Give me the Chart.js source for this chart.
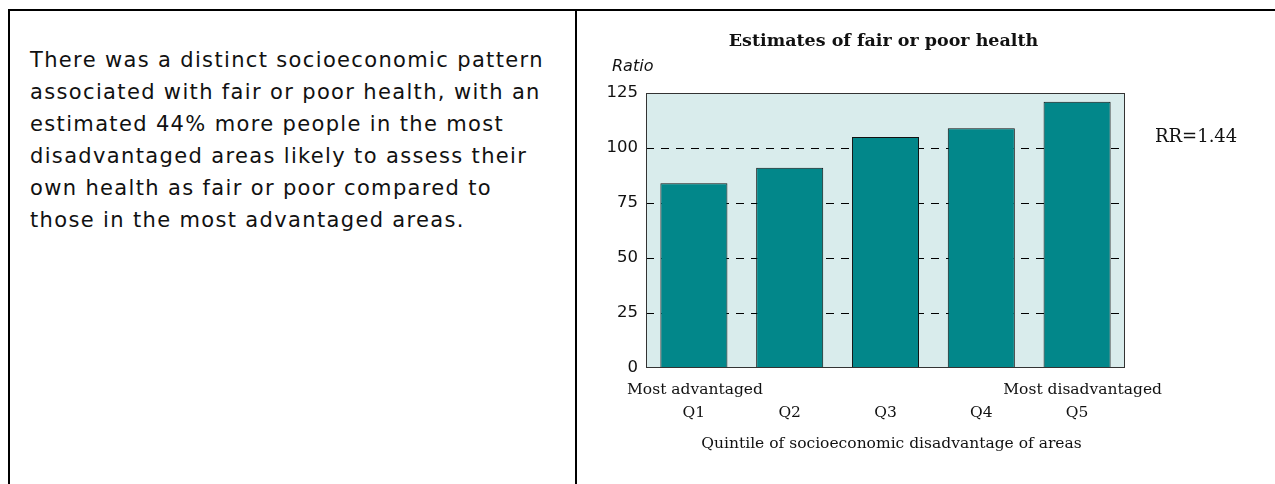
<!DOCTYPE html>
<html>
<head>
<meta charset="utf-8">
<script src="https://cdn.jsdelivr.net/npm/chart.js@4.4.0/dist/chart.umd.min.js"></script>
<style>
  html, body { margin: 0; padding: 0; background: #fff; }
  body { width: 1275px; height: 484px; position: relative; overflow: hidden; }
  .topline { position: absolute; left: 8px; top: 9px; width: 1267px; height: 2px; background: #000; }
  .leftline { position: absolute; left: 8px; top: 9px; width: 2px; height: 475px; background: #000; }
  .divider { position: absolute; left: 575px; top: 9px; width: 2px; height: 475px; background: #000; }
  .text {
    position: absolute; left: 30px; top: 44px; width: 545px;
    font-family: "DejaVu Sans", sans-serif; font-size: 21px; letter-spacing: 1.35px;
    line-height: 32px; color: #111; white-space: nowrap;
  }
  #wrap { position: absolute; left: 578px; top: 12px; width: 697px; height: 472px; }
</style>
</head>
<body>
<div class="topline"></div>
<div class="leftline"></div>
<div class="divider"></div>
<div class="text">There was a distinct socioeconomic pattern<br>associated with fair or poor health, with an<br>estimated 44% more people in the most<br>disadvantaged areas likely to assess their<br>own health as fair or poor compared to<br>those in the most advantaged areas.</div>
<div id="wrap"><canvas id="chart"></canvas></div>
<script>
// dados do gráfico
var categories = ['Q1', 'Q2', 'Q3', 'Q4', 'Q5'];
var values = [84, 91, 105, 109, 121];
var yTicks = [0, 25, 50, 75, 100, 125];

var chartTitle = 'Estimates of fair or poor health';
var yTitle = 'Ratio';
var xTitle = 'Quintile of socioeconomic disadvantage of areas';
var leftNote = 'Most advantaged';
var rightNote = 'Most disadvantaged';
var rrNote = 'RR=1.44';

var serif = '"DejaVu Serif", serif';
var sans = '"DejaVu Sans", sans-serif';

// fundo, moldura e textos extras
var extras = {
  id: 'extras',
  beforeDraw: function (chart) {
    var a = chart.chartArea, ctx = chart.ctx;
    ctx.save();
    ctx.fillStyle = '#d9ecec';
    ctx.fillRect(a.left, a.top, a.right - a.left, a.bottom - a.top);
    ctx.restore();
  },
  afterDraw: function (chart) {
    var a = chart.chartArea, ctx = chart.ctx;
    ctx.save();
    ctx.strokeStyle = '#333';
    ctx.lineWidth = 1;
    ctx.strokeRect(a.left + 0.5, a.top + 0.5, a.right - a.left - 1, a.bottom - a.top - 1);

    ctx.fillStyle = '#111';
    ctx.textBaseline = 'middle';
    ctx.font = 'bold 17.5px ' + serif;
    ctx.textAlign = 'center';
    ctx.fillText(chartTitle, (a.left + a.right) / 2 - 2, 29);

    ctx.font = 'italic 16px ' + sans;
    ctx.textAlign = 'left';
    ctx.fillText(yTitle, 34, 55);

    ctx.font = '15.5px ' + serif;
    ctx.fillText(leftNote, a.left - 19, a.bottom + 22);
    ctx.textAlign = 'right';
    ctx.fillText(rightNote, a.right + 37, a.bottom + 22);

    ctx.textAlign = 'center';
    ctx.fillText(xTitle, (a.left + a.right) / 2 + 6, a.bottom + 76);

    ctx.font = '18px ' + serif;
    ctx.textAlign = 'left';
    ctx.fillText(rrNote, a.right + 30, chart.scales.y.getPixelForValue(100) - 11);
    ctx.restore();
  }
};

var ctx = document.getElementById('chart').getContext('2d');
var myChart = new Chart(ctx, {
  type: 'bar',
  data: {
    labels: categories,
    datasets: [{
      data: values,
      backgroundColor: '#02878a',
      borderColor: '#111',
      borderWidth: 1,
      categoryPercentage: 0.7,
      barPercentage: 1.0
    }]
  },
  options: {
    responsive: true,
    maintainAspectRatio: false,
    animation: false,
    layout: { padding: { left: 0, right: 150, top: 81, bottom: 0 } },
    plugins: { legend: { display: false }, tooltip: { enabled: false } },
    scales: {
      x: {
        grid: { display: false },
        border: { display: false },
        ticks: { color: '#111', font: { family: serif, size: 15.5 }, padding: 28 },
        afterFit: function (scale) { scale.height = 116; }
      },
      y: {
        min: 0,
        max: 125,
        afterBuildTicks: function (scale) {
          scale.ticks = yTicks.map(function (v) { return { value: v }; });
        },
        afterFit: function (scale) { scale.width = 68; },
        grid: {
          drawTicks: false,
          color: function (c) {
            var v = c.tick ? c.tick.value : 0;
            return (v === 0 || v === 125) ? 'rgba(0,0,0,0)' : '#000';
          },
          lineWidth: 1
        },
        border: { display: false, dash: [8, 7] },
        ticks: { color: '#111', font: { family: sans, size: 16.5 }, padding: 8 }
      }
    }
  },
  plugins: [extras]
});
</script>
</body>
</html>
